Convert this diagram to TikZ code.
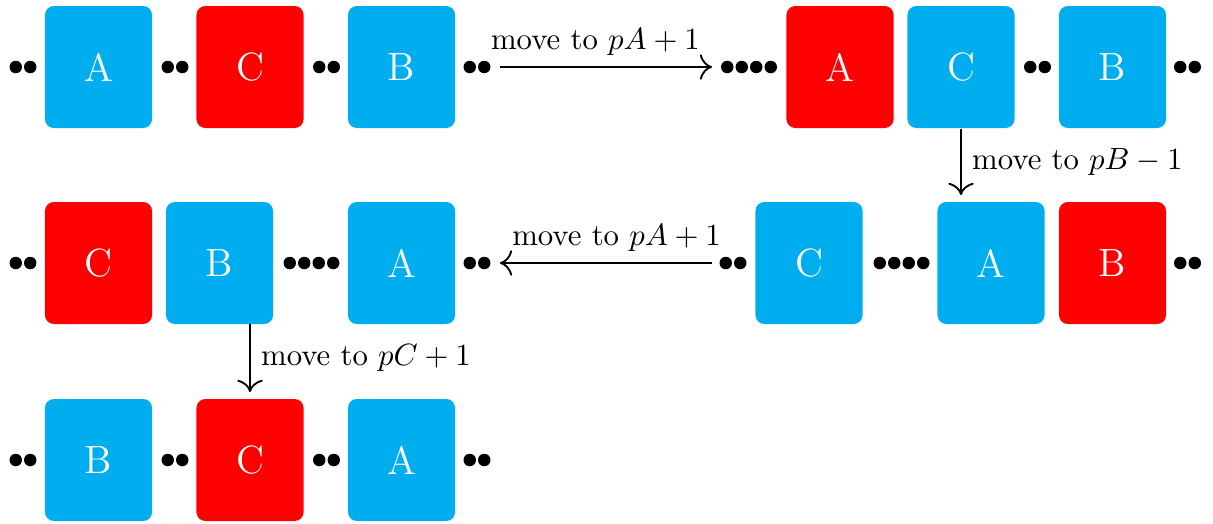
\documentclass[tikz,border=0pt]{standalone}
\usetikzlibrary{arrows.meta}
\definecolor{boxblue}{RGB}{0,174,239}
\definecolor{boxred}{RGB}{255,0,0}
\tikzset{
  blk/.style={rectangle, rounded corners=2.9pt, minimum width=34.8pt,
    minimum height=39.65pt, inner sep=0pt, text=white,
    font=\fontsize{12.8}{15}\selectfont},
  bluebox/.style={blk, fill=boxblue},
  redbox/.style={blk, fill=boxred},
  move/.style={-{To[scale=1.35]}, line width=0.6pt},
}
% a run of #3 bullets centred at (#1,#2)
\newcommand{\beadrun}[3]{%
  \foreach \k in {1,...,#3}{\fill ({#1+(\k-(#3+1)/2)*14.5},#2) circle[radius=2.03pt];}}
\begin{document}
\begin{tikzpicture}[x=0.325pt, y=-0.325pt]
\useasboundingbox (0,0) rectangle (1213,523);

% ---- row 1, left
\beadrun{23}{67}{2}
\node[bluebox] (r1a) at (98.5,67) {A};
\beadrun{175}{67}{2}
\node[redbox] (r1c) at (250,67) {C};
\beadrun{326.5}{67}{2}
\node[bluebox] (r1b) at (401.5,67) {B};
\beadrun{477}{67}{2}

% ---- row 1, right
\beadrun{749}{67}{4}
\node[redbox] (s1a) at (840,67) {A};
\node[bluebox] (s1c) at (961,67) {C};
\beadrun{1037.5}{67}{2}
\node[bluebox] (s1b) at (1112.5,67) {B};
\beadrun{1187.5}{67}{2}

% ---- row 2, right
\beadrun{733}{263}{2}
\node[bluebox] (s2c) at (809,263) {C};
\beadrun{901.5}{263}{4}
\node[bluebox] (s2a) at (991,263) {A};
\node[redbox] (s2b) at (1112.5,263) {B};
\beadrun{1187.5}{263}{2}

% ---- row 2, left
\beadrun{23}{263}{2}
\node[redbox] (r2c) at (98.5,263) {C};
\node[bluebox] (r2b) at (219.5,263) {B};
\beadrun{311.5}{263}{4}
\node[bluebox] (r2a) at (401.5,263) {A};
\beadrun{477}{263}{2}

% ---- row 3
\beadrun{23}{460}{2}
\node[bluebox] (r3b) at (98.5,460) {B};
\beadrun{175}{460}{2}
\node[redbox] (r3c) at (250,460) {C};
\beadrun{326.5}{460}{2}
\node[bluebox] (r3a) at (401.5,460) {A};
\beadrun{477}{460}{2}

% ---- moves
\coordinate (h1s) at (500,67);
\coordinate (h1e) at (712,67);
\coordinate (v1e) at (961,195);
\coordinate (h2s) at (712,263);
\coordinate (h2e) at (500,263);
\coordinate (v2s) at (250,324);
\coordinate (v2e) at (250,392);

\draw[move] (h1s) -- node[above, pos=0.45] {move to $pA+1$} (h1e);
\draw[move] (s1c.south) -- node[right] {move to $pB-1$} (v1e);
\draw[move] (h2s) -- node[above, pos=0.45] {move to $pA+1$} (h2e);
\draw[move] (v2s) -- node[right] {move to $pC+1$} (v2e);
\end{tikzpicture}
\end{document}
